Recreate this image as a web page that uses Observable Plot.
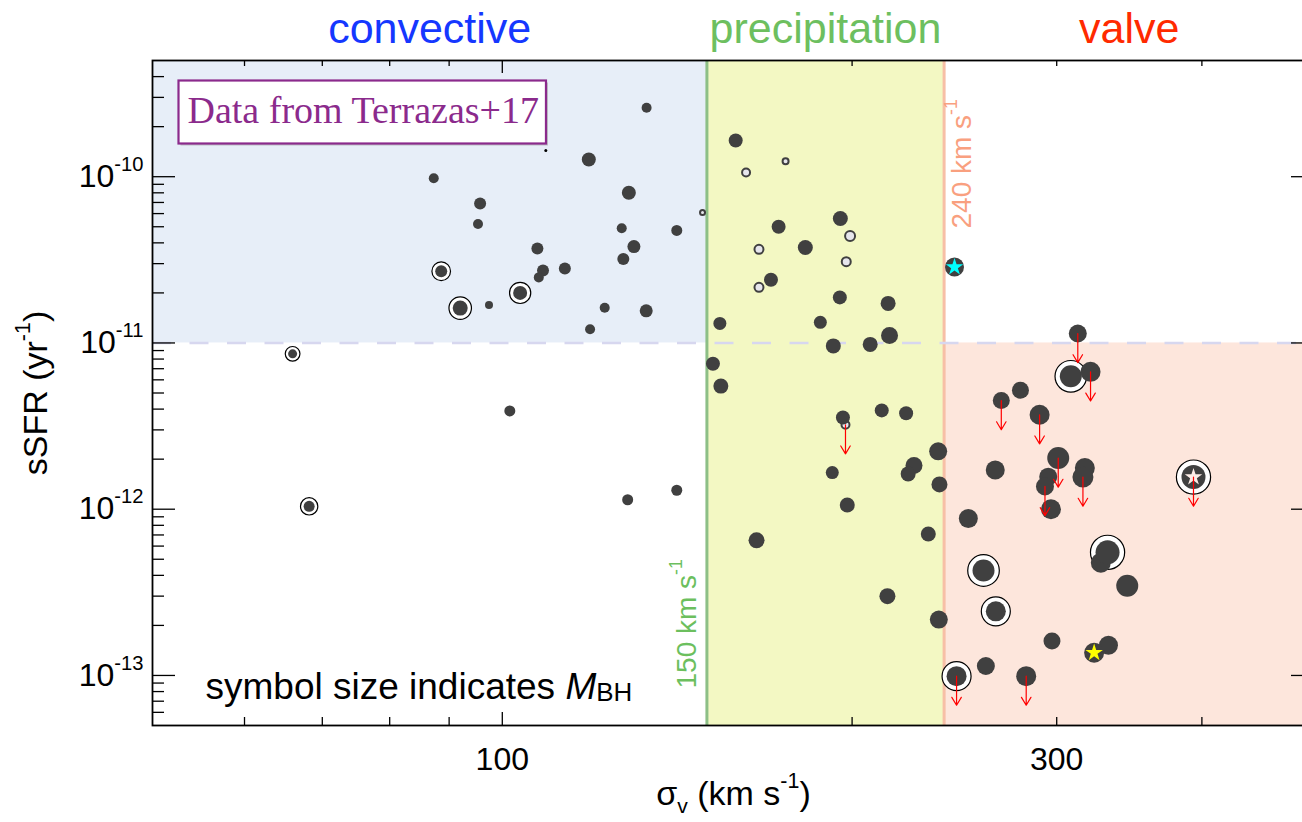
<!DOCTYPE html>
<html>
<head>
<meta charset="utf-8">
<script src="https://cdn.jsdelivr.net/npm/d3@7"></script>
<script src="https://cdn.jsdelivr.net/npm/@observablehq/plot@0.6"></script>
<style>
  body { margin: 0; background: #fff; }
  #wrap { width: 1302px; height: 822px; overflow: hidden; position: relative; }
  #wrap svg { max-width: none !important; }
</style>
</head>
<body>
<div id="wrap"></div>
<script>
// ---------------- data ----------------
const sigma = [
  87.3, 95.7, 95.3, 107.2, 108.4, 107.5, 113.2, 88.6, 92.0, 97.4, 103.6, 66.0, 109.0,
  133.1, 118.7, 128.5, 148.7, 126.7, 141.3, 129.8, 127.1, 122.5, 133.0, 119.0, 101.5, 68.2, 128.2, 141.3,
  158.8, 175.3, 162.1, 195.4, 172.9, 199.2, 166.3, 182.3, 197.7, 170.3, 166.3, 195.2, 214.8, 153.9, 187.8,
  215.4, 192.7, 207.3, 151.8, 154.2, 197.4, 196.4, 212.1, 222.6, 237.2, 226.1, 223.5, 237.8, 192.3, 198.1,
  165.5, 232.6, 214.5, 237.5, 245.0,
  312.8, 308.5, 320.8, 279.2, 268.8, 290.0, 265.6, 300.9, 317.2, 316.0, 295.0, 293.1, 296.6, 393.4, 251.8,
  327.4, 331.8, 259.5, 345.0, 265.9, 297.2, 332.4, 323.1, 260.7, 246.0, 282.4
];
const ssfr = [
  9.8e-11, 6.9e-11, 5.2e-11, 3.7e-11, 2.73e-11, 2.48e-11, 2.8e-11, 2.7e-11, 1.62e-11, 1.69e-11, 2.0e-11, 8.6e-12, 1.44e-10,
  2.6e-10, 1.27e-10, 8.0e-11, 6.1e-11, 4.9e-11, 4.75e-11, 3.8e-11, 3.2e-11, 1.63e-11, 1.56e-11, 1.21e-11, 3.9e-12, 1.04e-12, 1.14e-12, 1.3e-12,
  1.65e-10, 1.24e-10, 1.06e-10, 5.6e-11, 5.0e-11, 4.4e-11, 3.66e-11, 3.75e-11, 3.08e-11, 2.4e-11, 2.16e-11, 1.88e-11, 1.73e-11, 1.31e-11, 1.33e-11,
  1.11e-11, 9.6e-12, 9.8e-12, 7.5e-12, 5.5e-12, 3.22e-12, 3.56e-12, 3.93e-12, 3.78e-12, 2.23e-12, 1.83e-12, 1.63e-12, 1.41e-12, 1.66e-12, 1.06e-12,
  6.5e-13, 7.1e-13, 3.0e-13, 2.17e-13, 2.86e-11,
  1.14e-11, 6.3e-12, 6.7e-12, 5.2e-12, 4.5e-12, 3.7e-12, 1.72e-12, 2.03e-12, 1.77e-12, 1.56e-12, 1.57e-12, 1.37e-12, 1.0e-12, 1.56e-12, 8.8e-13,
  4.76e-13, 5.5e-13, 4.28e-13, 3.46e-13, 2.43e-13, 1.61e-13, 1.52e-13, 1.37e-13, 1.14e-13, 9.9e-14, 9.9e-14
];
// log10 black-hole mass (symbol size)
const logMBH = [
  8.25, 8.5, 8.25, 8.5, 8.5, 8.25, 8.5, 8.5, 8.875, 8.0, 8.75, 8.125, 7.375,
  8.25, 8.75, 8.75, 7.875, 8.25, 8.375, 8.625, 8.5, 8.25, 8.625, 8.25, 8.375, 8.375, 8.375, 8.375,
  8.75, 8.0, 8.25, 8.875, 8.75, 8.5, 8.375, 8.875, 8.375, 8.75, 8.375, 8.75, 8.875, 8.625, 8.625,
  9.125, 8.875, 8.875, 8.75, 8.875, 8.25, 8.75, 8.75, 8.75, 9.25, 9.125, 8.875, 9.0, 8.625, 8.875,
  9.0, 8.875, 9.0, 9.25, 9.375,
  9.25, 9.75, 9.5, 9.125, 9.125, 9.5, 9.375, 9.75, 9.5, 9.625, 9.25, 9.25, 9.5, 10.0, 9.375,
  9.5, 10.0, 9.75, 9.75, 9.5, 9.125, 9.375, 9.5, 9.25, 9.5, 9.5
];
// f = filled, r = ringed, h = hollow, t = tiny
const marker = [
  "f","f","f","f","f","f","f","r","r","f","r","r","t",
  "f","f","f","h","f","f","f","f","f","f","f","f","r","f","f",
  "f","h","h","f","f","h","h","f","h","f","h","f","f","f","f",
  "f","f","f","f","f","h","f","f","f","f","f","f","f","f","f",
  "f","f","f","f","f",
  "f","r","f","f","f","f","f","f","f","f","f","f","f","r","f",
  "f","r","r","f","r","f","f","f","f","r","f"
];
const upperLimit = [
  0,0,0,0,0,0,0,0,0,0,0,0,0,
  0,0,0,0,0,0,0,0,0,0,0,0,0,0,0,
  0,0,0,0,0,0,0,0,0,0,0,0,0,0,0,
  0,0,0,0,0,1,0,0,0,0,0,0,0,0,0,
  0,0,0,0,0,
  1,0,1,0,1,1,0,1,0,1,0,1,0,1,0,
  0,0,0,0,0,0,0,0,0,1,1
];
const starColor = [
  "","","","","","","","","","","","","",
  "","","","","","","","","","","","","","","",
  "","","","","","","","","","","","","","","",
  "","","","","","","","","","","","","","","",
  "","","","","cyan",
  "","","","","","","","","","","","","","#fdeee8","",
  "","","","","","","","yellow","","",""
];

const regionName = ["convective", "precipitation", "valve"];
const regionColor = ["#1537ff", "#6dbf5f", "#ff2a00"];
const regionFill = ["#e7eef8", "#f3f8c3", "#fde6dc"];
const sigmaBounds = [50, 150, 240, 500];
const regionLow = [1e-11, 5e-14, 5e-14];
const regionHigh = [5e-10, 5e-10, 1e-11];
const ssfrThreshold = [1e-11];
const sigmaLines = [150, 240];
const sigmaLineLabels = ["150 km s^{-1}", "240 km s^{-1}"];

const xTickValues = [100, 300];
const xTickLabels = ["100", "300"];
const xMajorTicks = [100];
const xMinorTicks = [60, 70, 80, 90, 200, 300, 400];
const yTickValues = [1e-13, 1e-12, 1e-11, 1e-10];
const yTickLabels = ["10^{-13}", "10^{-12}", "10^{-11}", "10^{-10}"];
const yMinorTicks = [];
for (const e of [-14, -13, -12, -11, -10]) for (const k of [2,3,4,5,6,7,8,9]) {
  const v = k * 10 ** e; if (v > 5e-14 && v < 5e-10) yMinorTicks.push(v);
}

// ---------------- layout ----------------
const W = 1316, H = 822, mt = 60, mb = 97, ml = 152, mr = 2;
const fw = W - ml - mr, fh = H - mt - mb;

const pts = sigma.map((s, i) => ({sigma: s, ssfr: ssfr[i], m: logMBH[i], kind: marker[i], limit: upperLimit[i], star: starColor[i]}));
const regions = regionName.map((name, i) => ({name, x1: sigmaBounds[i], x2: sigmaBounds[i + 1], y1: regionLow[i], y2: regionHigh[i], fill: regionFill[i], color: regionColor[i]}));
const lines = sigmaLines.map((v, i) => ({v, label: sigmaLineLabels[i]}));

const ringR = d => 7 + (1.3 * (d.m - 7) * 4 + 1.5) / 4;

const plot = Plot.plot({
  width: W, height: H,
  marginTop: mt, marginBottom: mb, marginLeft: ml, marginRight: mr,
  style: {fontFamily: "'Liberation Sans', Arial, sans-serif", background: "white", overflow: "visible", color: "black"},
  x: {type: "log", domain: [50, 500], axis: null},
  y: {type: "log", domain: [5e-14, 5e-10], axis: null},
  r: {type: "linear", domain: [7, 11], range: [0, 16]},
  color: {type: "identity"},
  marks: [
    Plot.rect(regions, {x1: "x1", x2: "x2", y1: "y1", y2: "y2", fill: "fill"}),
    Plot.ruleX([sigmaLines[0]], {stroke: "#8dbf86", strokeWidth: 3}),
    Plot.ruleX([sigmaLines[1]], {stroke: "#f7bfa6", strokeWidth: 3}),
    Plot.ruleY(ssfrThreshold, {stroke: "#d7d7ef", strokeWidth: 2.5, strokeDasharray: "19,18.5"}),
    // ticks (inward)
    Plot.tickX(xMinorTicks, {x: d => d, insetTop: fh - 8, stroke: "black", strokeWidth: 1.3}),
    Plot.tickX(xMajorTicks, {x: d => d, insetTop: fh - 13, stroke: "black", strokeWidth: 1.3}),
    Plot.tickX(xMinorTicks, {x: d => d, insetBottom: fh - 6, stroke: "black", strokeWidth: 1.3}),
    Plot.tickX(xMajorTicks, {x: d => d, insetBottom: fh - 13, stroke: "black", strokeWidth: 1.3}),
    Plot.tickY(yMinorTicks, {y: d => d, insetRight: fw - 12, stroke: "black", strokeWidth: 1.3}),
    Plot.tickY(yTickValues, {y: d => d, insetRight: fw - 23, stroke: "black", strokeWidth: 1.3}),
    Plot.tickY(yMinorTicks, {y: d => d, insetLeft: fw - 12, stroke: "black", strokeWidth: 1.3}),
    Plot.tickY(yTickValues, {y: d => d, insetLeft: fw - 23, stroke: "black", strokeWidth: 1.3}),
    Plot.frame({stroke: "black", strokeWidth: 1.8}),
    // points
    Plot.dot(pts.filter(d => d.kind === "r"), {x: "sigma", y: "ssfr", r: ringR, fill: "white", stroke: "black", strokeWidth: 1.2, sort: null}),
    Plot.dot(pts.filter(d => d.kind === "h"), {x: "sigma", y: "ssfr", r: d => d.m - 0.25, fill: "#e6e6ec", stroke: "#404040", strokeWidth: 2, sort: null}),
    Plot.dot(pts.filter(d => d.kind === "f" || d.kind === "r"), {x: "sigma", y: "ssfr", r: "m", fill: "#404040", sort: null}),
    Plot.dot(pts.filter(d => d.kind === "t"), {x: "sigma", y: "ssfr", r: "m", fill: "black", sort: null}),
    Plot.dot(pts.filter(d => d.star), {x: "sigma", y: "ssfr", symbol: "star", r: 5.5, fill: "star", sort: null}),
    Plot.arrow(pts.filter(d => d.limit), {x1: "sigma", y1: "ssfr", x2: "sigma", y2: d => d.ssfr * 10 ** -0.175, stroke: "red", strokeWidth: 1.2, headLength: 11.5, headAngle: 62}),
    // region titles
    Plot.text(regions, {x: d => Math.sqrt(d.x1 * d.x2), text: "name", fill: "color", frameAnchor: "top", dy: -18, lineAnchor: "bottom", fontSize: 43}),
    // vertical line labels
    Plot.text([lines[0]], {x: "v", text: "label", frameAnchor: "bottom", dy: -37, dx: -10.5, rotate: -90, textAnchor: "start", lineAnchor: "bottom", fill: "#6cbf5e", fontSize: 28}),
    Plot.text([lines[1]], {x: "v", text: "label", frameAnchor: "top", dy: 168, dx: 26.5, rotate: -90, textAnchor: "start", lineAnchor: "bottom", fill: "#f9a07f", fontSize: 28}),
    // tick labels
    Plot.text(yTickValues, {y: d => d, text: (d, i) => yTickLabels[i], frameAnchor: "left", dx: -9, textAnchor: "end", lineAnchor: "middle", fontSize: 32}),
    Plot.text(xTickValues, {x: d => d, text: (d, i) => xTickLabels[i], frameAnchor: "bottom", dy: 22, lineAnchor: "top", fontSize: 32}),
    // axis labels
    Plot.text(["sSFR (yr^{-1})"], {frameAnchor: "left", dx: -106, dy: 0, rotate: -90, textAnchor: "middle", lineAnchor: "bottom", fontSize: 34}),
    Plot.text(["σ_{v} (km s^{-1})"], {frameAnchor: "bottom", dy: 79, lineAnchor: "bottom", textAnchor: "middle", fontSize: 34}),
    // annotations
    Plot.text(["Data from Terrazas+17"], {frameAnchor: "top-left", dx: 35, dy: 62, lineAnchor: "bottom", textAnchor: "start", fontFamily: "'Liberation Serif', 'DejaVu Serif', serif", fontSize: 38, fill: "#8b2a8c"}),
    Plot.text(["symbol size indicates *{M}={BH}"], {frameAnchor: "bottom-left", dx: 53, dy: -27, lineAnchor: "bottom", textAnchor: "start", fontSize: 37})
  ]
});

plot.style.maxWidth = "none";
document.getElementById("wrap").appendChild(plot);

// rich text: ^{sup}, _{sub}, ={low sub}, *{italic}
function richify(el) {
  const s = el.textContent;
  if (!/[\^_=*]\{/.test(s)) return;
  const fs = parseFloat(getComputedStyle(el).fontSize) || 16;
  const re = /([\^_=*])\{([^}]*)\}/g;
  const parts = [];
  let last = 0, m;
  while ((m = re.exec(s))) {
    if (m.index > last) parts.push({t: s.slice(last, m.index), k: ""});
    parts.push({t: m[2], k: m[1]});
    last = re.lastIndex;
  }
  if (last < s.length) parts.push({t: s.slice(last), k: ""});
  while (el.firstChild) el.removeChild(el.firstChild);
  let shift = 0;
  for (const p of parts) {
    const ts = document.createElementNS("http://www.w3.org/2000/svg", "tspan");
    let target = 0;
    if (p.k === "^") { target = -0.5 * fs; ts.setAttribute("font-size", 0.63 * fs); }
    else if (p.k === "_") { target = 0.25 * fs; ts.setAttribute("font-size", 0.62 * fs); }
    else if (p.k === "=") { target = 0.06 * fs; ts.setAttribute("font-size", 0.7 * fs); }
    else if (p.k === "*") { ts.setAttribute("font-style", "italic"); }
    ts.setAttribute("dy", target - shift);
    shift = target;
    ts.textContent = p.t;
    el.appendChild(ts);
  }
}
plot.querySelectorAll("text").forEach(richify);

// box around the data-source note
plot.querySelectorAll("text").forEach(el => {
  if (!el.textContent.includes("Terrazas")) return;
  const b = el.getBBox();
  const ns = "http://www.w3.org/2000/svg";
  const parent = el.parentNode;
  const tf = el.getAttribute("transform") || "";
  const mk = (dx, dy, attrs) => {
    const r = document.createElementNS(ns, "rect");
    r.setAttribute("x", b.x - 9 + dx);
    r.setAttribute("y", b.y - 8 + dy);
    r.setAttribute("width", b.width + 16);
    r.setAttribute("height", b.height + 21);
    r.setAttribute("transform", tf);
    for (const k in attrs) r.setAttribute(k, attrs[k]);
    parent.insertBefore(r, el);
  };
  mk(2, 2, {fill: "#9a9a9a", "fill-opacity": 0.55, stroke: "none"});
  mk(0, 0, {fill: "white", stroke: "#8b2a8c", "stroke-width": 2.2});
});
</script>
</body>
</html>
